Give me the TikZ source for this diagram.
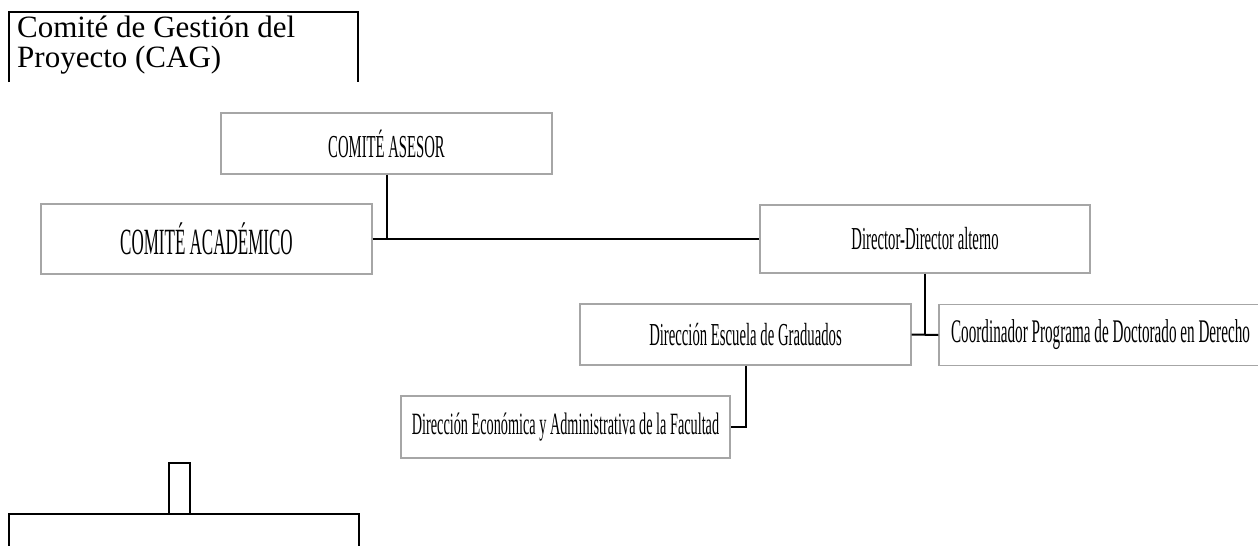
\documentclass[tikz,border=0pt]{standalone}
\usepackage{fontspec}
\setmainfont{Liberation Serif}
\newfontfamily\narrowfont[FakeStretch=0.46]{Liberation Serif}
\usetikzlibrary{positioning}
\tikzset{
    unit/.style={draw=gray!70, line width=1.2pt, fill=white, inner sep=0pt,
        minimum width=331pt, minimum height=61pt,
        font=\narrowfont\fontsize{32}{34}\selectfont}, % boxes of the chart
    link/.style={line width=2pt}, % lines between boxes
    frame/.style={line width=2pt, line join=miter}, % open black frames
}

\begin{document}
\begin{tikzpicture}[x=1pt, y=-1pt]
    \useasboundingbox (0,0) rectangle (1258,546);
    % open frame at the top left
    \draw[frame] (9,82) -- (9,12) -- (358,12) -- (358,82);
    \node[anchor=north west, inner sep=0pt, align=left,
        font=\fontsize{31}{30}\selectfont] (cag) at (17,16) {Comité de Gestión del\\Proyecto (CAG)};
    % chart
    \node[unit] (asesor) at (386.5,143.5) {COMITÉ ASESOR};
    \node[unit, minimum height=70pt, font=\narrowfont\fontsize{37}{39}\selectfont] (academico) at (206.5,239) {COMITÉ ACADÉMICO};
    \node[unit, minimum width=330pt, minimum height=68pt] (director) at (925,239) {Director-Director alterno};
    \node[unit] (escuela) at (745.5,334.5) {Dirección Escuela de Graduados};
    \node[unit, minimum width=323pt, font=\narrowfont\fontsize{33}{35}\selectfont] (coordinador) at (1100.5,335) {Coordinador Programa de Doctorado en Derecho};
    \node[unit, minimum width=329pt, minimum height=62pt, font=\narrowfont\fontsize{31}{33}\selectfont] (economica) at (565.5,427) {Dirección Económica y Administrativa de la Facultad};
    \draw[link] (academico.east) -- (director.west);
    \draw[link] (asesor.south) -- (asesor.south |- academico.east);
    \draw[link] (director.south) -- (director.south |- escuela.east);
    \draw[link] (escuela.east) -- (coordinador.west);
    \draw[link] (escuela.south) -- (escuela.south |- economica.east) -- (economica.east);
    % open frame at the bottom left
    \draw[frame] (169,514) rectangle (190,463);
    \draw[frame] (9,550) -- (9,514) -- (359,514) -- (359,550);
\end{tikzpicture}
\end{document}
